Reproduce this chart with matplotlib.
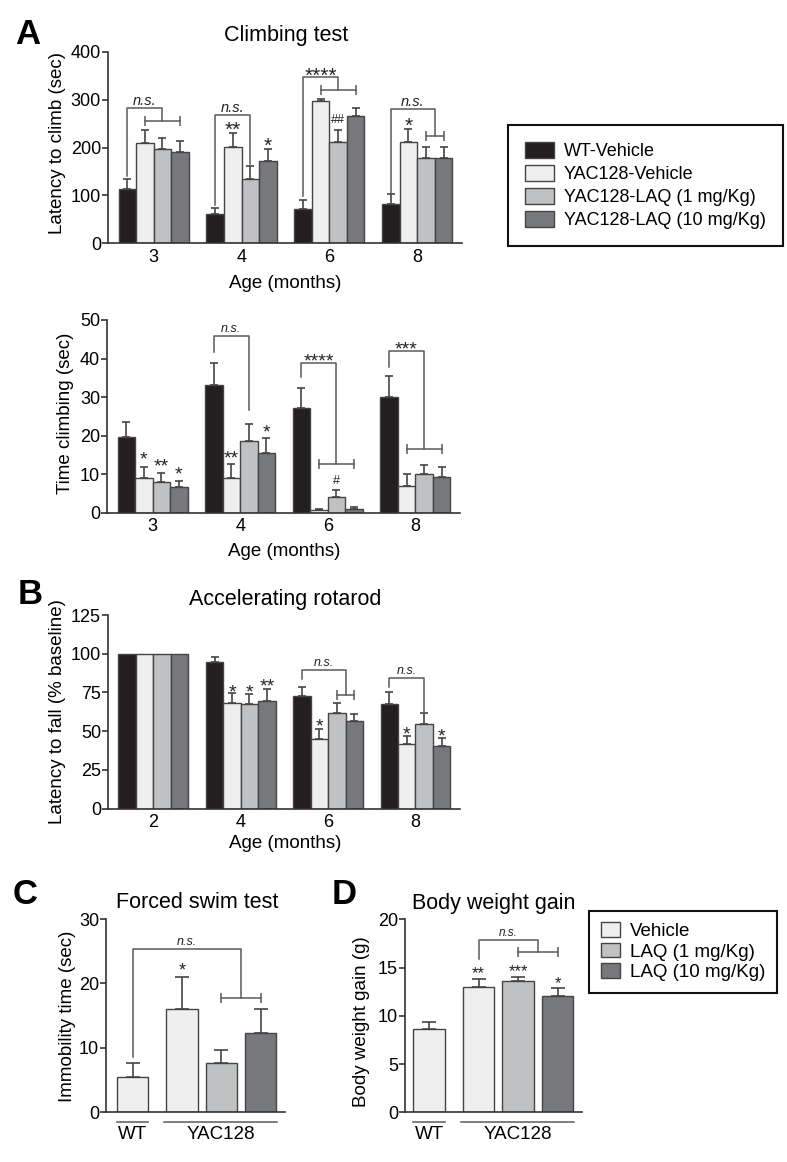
import matplotlib.pyplot as plt
import matplotlib.transforms as mtransforms
from matplotlib.patches import Patch
import numpy as np

plt.rcParams['font.family'] = ['Liberation Sans', 'DejaVu Sans']

W, H = 787, 1162

# groups and colours
groups = ['WT-Vehicle', 'YAC128-Vehicle', 'YAC128-LAQ (1 mg/Kg)', 'YAC128-LAQ (10 mg/Kg)']
colors = ['#231f20', '#efefef', '#c0c1c3', '#77787b']
edge = '#444444'
axc = '#333333'
brc = '#5a5a5a'

# A - climbing test, latency to climb (sec)
climb_ages = ['3', '4', '6', '8']
latency = [[113, 61, 71, 82],
           [209, 202, 298, 211],
           [196, 134, 212, 178],
           [191, 172, 267, 178]]
latency_sem = [[22, 13, 19, 20],
               [28, 29, 3, 28],
               [23, 27, 25, 24],
               [22, 24, 15, 24]]

# A - time climbing (sec)
climbing = [[19.7, 33.1, 27.1, 29.9],
            [8.9, 8.9, 0.6, 7.0],
            [7.9, 18.7, 4.2, 10.0],
            [6.6, 15.6, 0.9, 9.3]]
climbing_sem = [[3.9, 5.8, 5.3, 5.6],
                [3.0, 3.7, 0.3, 3.0],
                [2.3, 4.3, 1.7, 2.4],
                [1.6, 3.9, 0.5, 2.6]]

# B - accelerating rotarod (% baseline)
rotarod_ages = ['2', '4', '6', '8']
rotarod = [[100, 94.5, 72.7, 67.6],
           [100, 68.4, 44.8, 41.8],
           [100, 67.8, 61.6, 54.7],
           [100, 69.7, 56.6, 40.7]]
rotarod_sem = [[0, 3.6, 6.0, 7.5],
               [0, 6.0, 6.4, 4.9],
               [0, 6.0, 6.4, 6.9],
               [0, 7.4, 4.5, 4.9]]

# C / D
cd_labels = ['Vehicle', 'LAQ (1 mg/Kg)', 'LAQ (10 mg/Kg)']
cd_colors = ['#efefef', '#efefef', '#c0c1c3', '#77787b']
swim = [5.5, 16.1, 7.7, 12.3]
swim_sem = [2.1, 4.9, 2.0, 3.7]
weight = [8.6, 13.0, 13.6, 12.05]
weight_sem = [0.8, 0.8, 0.45, 0.8]

# significance marks: (group, series, text, height)
latency_marks = [(1, 1, '**', 247), (1, 3, '*', 212), (2, 2, '##', 261), (3, 1, '*', 254)]
climbing_marks = [(0, 1, '*', 15), (0, 2, '**', 13.2), (0, 3, '*', 11.1),
                  (1, 1, '**', 15.2), (1, 3, '*', 22), (2, 2, '#', 8.5)]
rotarod_marks = [(1, 1, '*', 78), (1, 2, '*', 78), (1, 3, '**', 82),
                 (2, 1, '*', 56), (3, 1, '*', 51.2), (3, 3, '*', 49.7)]
# brackets: (group, left foot, right series or sub-bracket span, right foot / sub level, top, text)
latency_br = [(0, 140, (1, 3), 256, 283, 'n.s.'), (1, 80, 2, 165, 269, 'n.s.'),
              (2, 98, (1, 3), 320, 347, '****'), (3, 105, (2, 3), 225, 280, 'n.s.')]
climbing_br = [(1, 41.8, 2, 26.7, 45.9, 'n.s.'), (2, 35.1, (1, 3), 12.6, 38.9, '****'),
               (3, 37.9, (1, 3), 16.4, 42, '***')]
rotarod_br = [(2, 83.5, (2, 3), 73.4, 89.5, 'n.s.'), (3, 78.4, 2, 62, 84.4, 'n.s.')]

fig = plt.figure(figsize=(W / 100, H / 100), dpi=100)


def px_axes(l, t, r, b):
    return fig.add_axes([l / W, 1 - b / H, (r - l) / W, (b - t) / H])


def ftext(x, y, s, **kw):
    fig.text(x / W, 1 - y / H, s, ha='center', va='center', **kw)


def style(ax, ylim, step):
    for s in ['top', 'right']:
        ax.spines[s].set_visible(False)
    for s in ['left', 'bottom']:
        ax.spines[s].set_color(axc)
        ax.spines[s].set_linewidth(1.2)
    ax.set_ylim(*ylim)
    ax.set_yticks(np.arange(ylim[0], ylim[1] + step / 2, step))
    ax.tick_params(axis='y', direction='out', length=4, width=1.2, color=axc, labelsize=13, pad=1)
    ax.tick_params(axis='x', length=0, labelsize=13, pad=4)


def errbars(ax, x, vals, sems, cap):
    x, vals, sems = np.asarray(x, float), np.asarray(vals, float), np.asarray(sems, float)
    keep = sems > 0
    ax.errorbar(x[keep], vals[keep], yerr=[np.zeros(keep.sum()), sems[keep]], fmt='none',
                ecolor=edge, elinewidth=1.2, capsize=cap, capthick=1.2, zorder=1)


def centre_off(s, size):
    if '*' in s:
        return 0.5 * size
    if '#' in s:
        return 0.36 * size
    return 0.27 * size


def mark(ax, x, y, s, size, italic=False):
    ax.annotate(s, (x, y), xytext=(0, -centre_off(s, size)), textcoords='offset points',
                ha='center', va='baseline', fontsize=size, color='#222222',
                style='italic' if italic else 'normal', annotation_clip=False)


def bracket(ax, xl, yl, right, yr, top, s, size, ssize):
    if isinstance(right, tuple):
        x1, x2 = right
        ax.plot([x1, x2], [yr, yr], color=brc, lw=1.1, marker='|', markersize=7, mew=1.1, clip_on=False)
        xr = (x1 + x2) / 2
    else:
        xr = right
    ax.plot([xl, xl, xr, xr], [yl, top, top, yr], color=brc, lw=1.1, clip_on=False)
    xc = (xl + xr) / 2
    if s == 'n.s.':
        ax.annotate(s, (xc, top), xytext=(0, 5 - 0.27 * size), textcoords='offset points',
                    ha='center', va='baseline', fontsize=size, style='italic', color='#222222')
    else:
        ax.annotate(s, (xc, top), xytext=(0, 5 - 0.55 * ssize), textcoords='offset points',
                    ha='center', va='baseline', fontsize=ssize, color='#222222')


def grouped(ax, vals, sems, ticklabels, marks, brs, ylim, step, nssize, ssize):
    x = np.arange(len(ticklabels))
    w = 0.2
    for i in range(4):
        ax.bar(x + (i - 1.5) * w, vals[i], w, color=colors[i], edgecolor=edge, linewidth=1, zorder=2)
        errbars(ax, x + (i - 1.5) * w, vals[i], sems[i], 3)
    ax.set_xlim(-0.52, 3.51)
    ax.set_xticks(x, ticklabels)
    style(ax, ylim, step)
    for g, i, s, y in marks:
        mark(ax, g + (i - 1.5) * w, y, s, ssize if '*' in s else 9)
    for g, yl, right, yr, top, s in brs:
        xl = g - 1.5 * w
        if isinstance(right, tuple):
            r = (g + (right[0] - 1.5) * w, g + (right[1] - 1.5) * w)
        else:
            r = g + (right - 1.5) * w
        bracket(ax, xl, yl, r, yr, top, s, nssize, ssize)


# ---- A top
ax1 = px_axes(108, 52, 462, 243)
grouped(ax1, latency, latency_sem, climb_ages, latency_marks, latency_br, (0, 400), 100, 10.5, 15)
ftext(286.5, 35, 'Climbing test', fontsize=15.5)
ftext(58, 143, 'Latency to climb (sec)', fontsize=13.5, rotation=90)
ftext(285.5, 283, 'Age (months)', fontsize=13.5)
ftext(28, 34, 'A', fontsize=25, fontweight='bold')

# ---- A bottom
ax2 = px_axes(107, 320, 460, 512.7)
grouped(ax2, climbing, climbing_sem, climb_ages, climbing_marks, climbing_br, (0, 50), 10, 9, 14)
ftext(65, 413, 'Time climbing (sec)', fontsize=13.5, rotation=90)
ftext(284, 551.7, 'Age (months)', fontsize=13.5)

# ---- B
ax3 = px_axes(108, 615, 460, 808.7)
grouped(ax3, rotarod, rotarod_sem, rotarod_ages, rotarod_marks, rotarod_br, (0, 125), 25, 9, 14)
ftext(284.7, 600, 'Accelerating rotarod', fontsize=15.5)
ftext(58, 712, 'Latency to fall (% baseline)', fontsize=13.5, rotation=90)
ftext(285, 843, 'Age (months)', fontsize=13.5)
ftext(30, 595, 'B', fontsize=25, fontweight='bold')

fig.legend([Patch(facecolor=c, edgecolor=edge) for c in colors], groups,
           loc='upper left', bbox_to_anchor=(508.3 / W, 1 - 125 / H), borderaxespad=0,
           fontsize=13, frameon=True, fancybox=False, edgecolor='#111111', framealpha=1,
           borderpad=0.95, labelspacing=0.28, handlelength=1.56, handleheight=0.95,
           handletextpad=0.55).get_frame().set_linewidth(1.5)

# ---- C and D
cd_x = [0, 1.25, 2.25, 3.25]


def small_panel(ax, vals, sems, ylim, step, xlim):
    ax.bar(cd_x, vals, 0.8, color=cd_colors, edgecolor=edge, linewidth=1, zorder=2)
    errbars(ax, cd_x, vals, sems, 5)
    ax.set_xlim(*xlim)
    ax.set_xticks([])
    style(ax, ylim, step)
    tr = mtransforms.blended_transform_factory(ax.transData, ax.transAxes)
    ax.plot([cd_x[0] - 0.4, cd_x[0] + 0.4], [-0.049, -0.049], color=brc, lw=1.1, transform=tr, clip_on=False)
    ax.plot([cd_x[1] - 0.45, cd_x[3] + 0.42], [-0.049, -0.049], color=brc, lw=1.1, transform=tr, clip_on=False)
    ax.text(cd_x[0], -0.117, 'WT', transform=tr, ha='center', va='center', fontsize=13.5)
    ax.text((cd_x[1] + cd_x[3]) / 2, -0.117, 'YAC128', transform=tr, ha='center', va='center', fontsize=13.5)


ax4 = px_axes(106, 919, 285, 1112.3)
small_panel(ax4, swim, swim_sem, (0, 30), 10, (-0.68, 3.87))
bracket(ax4, cd_x[0], 8.6, (cd_x[2], cd_x[3]), 17.7, 25.4, 'n.s.', 9, 13)
mark(ax4, cd_x[1], 22.6, '*', 13)
ftext(197, 903, 'Forced swim test', fontsize=15.5)
ftext(68, 1016.5, 'Immobility time (sec)', fontsize=13.5, rotation=90)
ftext(25, 895, 'C', fontsize=25, fontweight='bold')

ax5 = px_axes(405, 919.3, 581.7, 1112.3)
small_panel(ax5, weight, weight_sem, (0, 20), 5, (-0.61, 3.86))
bracket(ax5, cd_x[1], 15.85, (cd_x[2], cd_x[3]), 16.6, 17.9, 'n.s.', 8.5, 12)
for xi, s, y in [(1, '**', 14.8), (2, '***', 15.0), (3, '*', 13.7)]:
    mark(ax5, cd_x[xi], y, s, 12)
ftext(493.3, 903.3, 'Body weight gain', fontsize=15.5)
ftext(361.7, 1021.7, 'Body weight gain (g)', fontsize=13.5, rotation=90)
ftext(344, 895, 'D', fontsize=25, fontweight='bold')

fig.legend([Patch(facecolor=c, edgecolor=edge) for c in cd_colors[1:]], cd_labels,
           loc='upper left', bbox_to_anchor=(589 / W, 1 - 910.7 / H), borderaxespad=0,
           fontsize=13.5, frameon=True, fancybox=False, edgecolor='#111111', framealpha=1,
           borderpad=0.62, labelspacing=0.15, handlelength=1.04, handleheight=0.8,
           handletextpad=0.54).get_frame().set_linewidth(1.5)

fig.savefig('out.png', dpi=100)
